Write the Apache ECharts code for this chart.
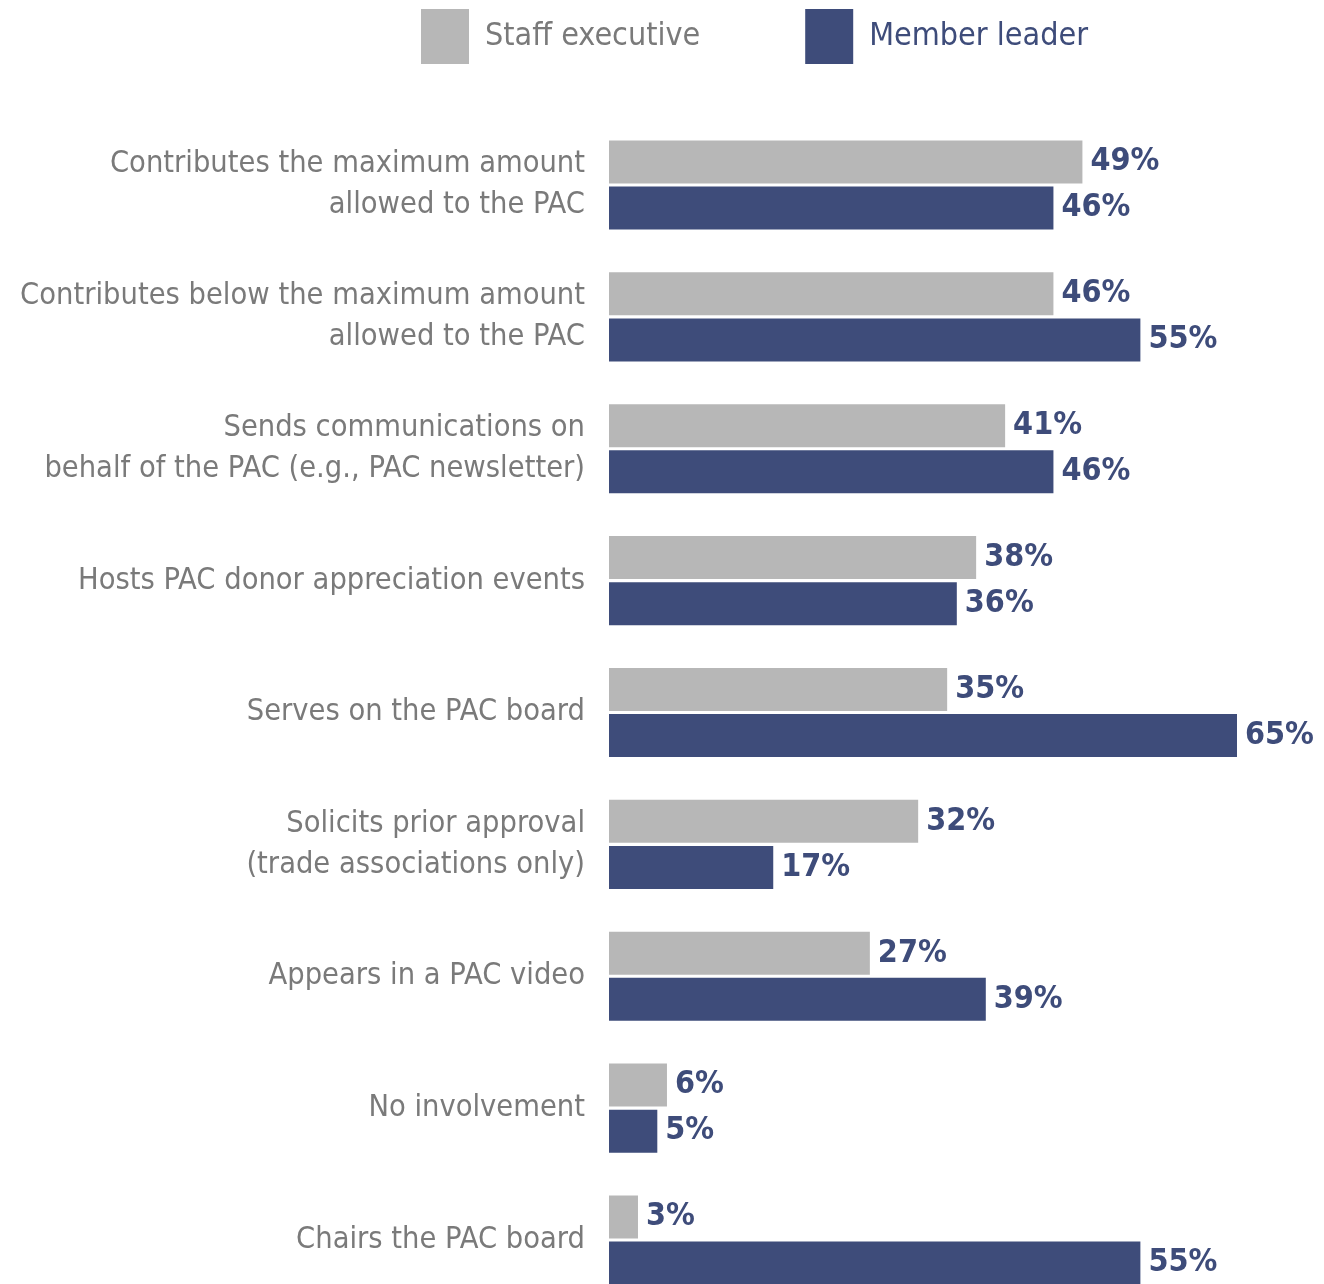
<!DOCTYPE html>
<html>
<head>
<meta charset="utf-8">
<script src="https://cdn.jsdelivr.net/npm/echarts@6/dist/echarts.min.js"></script>
<style>
  html, body { margin: 0; padding: 0; background: #ffffff; }
  #chart { width: 1324px; height: 1284px; }
</style>
</head>
<body>
<div id="chart"></div>
<script>
// Roles in PAC activities, share of respondents (%)
const categories = [
  'Contributes the maximum amount\nallowed to the PAC',
  'Contributes below the maximum amount\nallowed to the PAC',
  'Sends communications on\nbehalf of the PAC (e.g., PAC newsletter)',
  'Hosts PAC donor appreciation events',
  'Serves on the PAC board',
  'Solicits prior approval\n(trade associations only)',
  'Appears in a PAC video',
  'No involvement',
  'Chairs the PAC board'
];
const staffExecutive = [49, 46, 41, 38, 35, 32, 27, 6, 3];
const memberLeader = [46, 55, 46, 36, 65, 17, 39, 5, 55];

const GRAY = '#b7b7b7';
const NAVY = '#3e4c7a';
const FONT = '"Liberation Sans Narrow", "DejaVu Sans Condensed", "Open Sans", sans-serif';

const chart = echarts.init(document.getElementById('chart'));

const valueLabel = {
  show: true,
  position: 'right',
  distance: 8,
  formatter: '{c}%',
  color: NAVY,
  fontFamily: FONT,
  fontWeight: 'bold',
  fontSize: 32
};

chart.setOption({
  animation: false,
  backgroundColor: '#ffffff',
  legend: {
    left: 421,
    top: 9,
    padding: 0,
    itemWidth: 48,
    itemHeight: 55,
    itemGap: 105,
    icon: 'rect',
    textStyle: {
      fontFamily: FONT,
      fontSize: 32,
      padding: [0, 0, 0, 11]
    },
    data: [
      { name: 'Staff executive', textStyle: { color: '#7a7a7a' } },
      { name: 'Member leader', textStyle: { color: NAVY } }
    ]
  },
  // category ticks sit on the group centres (first at top edge, last at bottom edge)
  grid: {
    left: 609,
    top: 185,
    width: 628,
    height: 1055,
    containLabel: false
  },
  xAxis: {
    type: 'value',
    min: 0,
    max: 65,
    show: false
  },
  yAxis: {
    type: 'category',
    inverse: true,
    boundaryGap: false,
    data: categories,
    axisLine: { show: false },
    axisTick: { show: false },
    splitLine: { show: false },
    axisLabel: {
      margin: 24,
      color: '#7a7a7a',
      fontFamily: FONT,
      fontSize: 30.5,
      lineHeight: 41,
      align: 'right'
    }
  },
  series: [
    {
      name: 'Staff executive',
      type: 'bar',
      data: staffExecutive,
      barWidth: 43,
      barGap: '7%',
      itemStyle: { color: GRAY },
      label: valueLabel
    },
    {
      name: 'Member leader',
      type: 'bar',
      data: memberLeader,
      barWidth: 43,
      barGap: '7%',
      itemStyle: { color: NAVY },
      label: valueLabel
    }
  ]
});
</script>
</body>
</html>
